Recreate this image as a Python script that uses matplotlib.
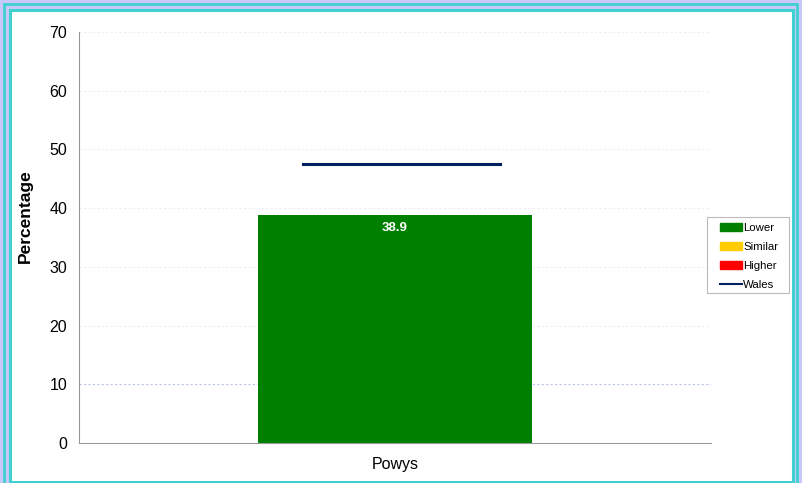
import matplotlib.pyplot as plt
from matplotlib.patches import Rectangle
from matplotlib.lines import Line2D

areas = ['Powys']
values = [38.9]
wales = 47.6
legend_labels = ['Lower', 'Similar', 'Higher', 'Wales']
legend_colors = ['#008000', '#FFCC00', '#FF0000', '#002060']

plt.rcParams['font.family'] = ['Liberation Sans', 'DejaVu Sans']

fig = plt.figure(figsize=(8.03, 4.83), dpi=100)
fig.patch.set_facecolor('#c8c8f8')

W, H = 803, 483
def frame(x0, y0, x1, y1, color, lw, z=0):
    fig.patches.append(Rectangle((x0 / W, 1 - y1 / H), (x1 - x0) / W, (y1 - y0) / H,
                                 transform=fig.transFigure, fill=False,
                                 edgecolor=color, linewidth=lw, zorder=z))

# white panel + double cyan frame (cropped at the bottom, like the source image)
fig.patches.append(Rectangle((10 / W, 1 - 490 / H), 783 / W, 480 / H,
                             transform=fig.transFigure, facecolor='white',
                             edgecolor='none', zorder=-1))
frame(4.5, 4, 797.5, 495, '#40d0d0', 2.0)
frame(10, 9.5, 793, 482, '#40d0d0', 2.2)

ax = fig.add_axes([79 / W, 1 - 443 / H, 632 / W, 411 / H])
ax.set_facecolor('white')

ax.bar(range(len(areas)), values, width=0.435, color='#008000', zorder=2)
for i, v in enumerate(values):
    ax.text(i, v - 2.2, f'{v:.1f}', ha='center', va='center', color='white',
            fontsize=9.5, fontweight='bold', zorder=3)
ax.plot([-0.145, 0.166], [wales, wales], color='#002060', linewidth=2.2, zorder=3)

ax.set_xlim(-0.5, 0.5)
ax.set_ylim(0, 70)
ax.set_yticks(range(0, 71, 10))
ax.set_xticks(range(len(areas)))
ax.set_xticklabels(areas, fontsize=11.5)
ax.tick_params(axis='y', labelsize=11.5, length=0, pad=8.5)
ax.tick_params(axis='x', length=0, pad=10)
for y in range(10, 71, 10):
    c = '#b8c4ee' if y == 10 else '#eceef5'
    ax.axhline(y, color=c, linewidth=0.8, linestyle=(0, (2, 2)), zorder=1)
for s in ['top', 'right']:
    ax.spines[s].set_visible(False)
ax.spines['left'].set_color('#999999')
ax.spines['bottom'].set_color('#999999')
ax.set_ylabel('Percentage', fontsize=12.5, fontweight='bold')
ax.yaxis.set_label_coords(-46 / 632, (443 - 216) / 411)

# legend box drawn separately so the inner padding can match
frame(707, 217, 789, 293, '#bbbbbb', 0.8, z=3)
handles = [Rectangle((0, 0), 1, 1, color=c) for c in legend_colors[:3]]
handles.append(Line2D([0], [0], color=legend_colors[3], linewidth=1.5))
leg = fig.legend(handles, legend_labels, loc='upper left',
                 bbox_to_anchor=(720 / W, 1 - 222.5 / H), fontsize=8.2,
                 frameon=False, handlelength=1.95, handleheight=0.75,
                 handletextpad=0.08, labelspacing=0.78, borderpad=0,
                 borderaxespad=0)

fig.savefig('out.png', dpi=100, facecolor=fig.get_facecolor())
